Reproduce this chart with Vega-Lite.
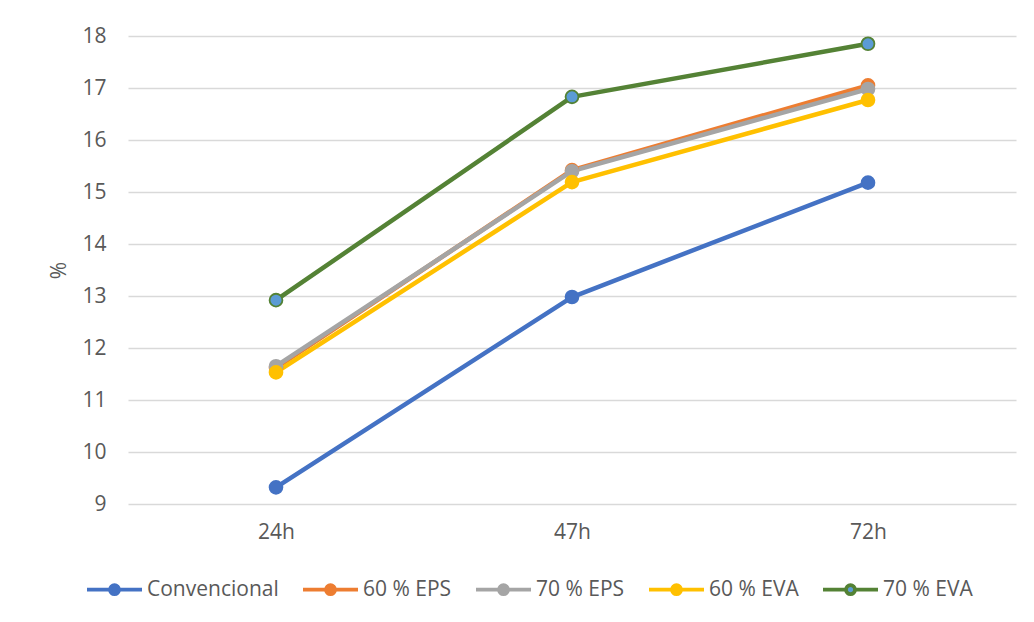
{
  "$schema": "https://vega.github.io/schema/vega-lite/v6.json",
  "width": 888,
  "height": 468,
  "autosize": {"type": "none"},
  "padding": {"left": 128, "top": 36, "right": 18, "bottom": 118},
  "background": "white",
  "config": {
    "view": {"stroke": null},
    "font": "Open Sans",
    "legend": {
      "orient": "none",
      "direction": "horizontal",
      "legendX": -43,
      "legendY": 524,
      "labelFontSize": 21,
      "labelColor": "#595959",
      "symbolType": "M-1,0H-0.164M0.164,0H1M-0.164,0A0.164,0.164 0 1,1 0.164,0A0.164,0.164 0 1,1 -0.164,0Z",
      "symbolSize": 3025,
      "symbolStrokeWidth": 3.8,
      "symbolOpacity": 1,
      "labelOffset": 3,
      "columnPadding": 16
    }
  },
  "data": {
    "values": [
      {"series": "Convencional", "time": "24h", "value": 9.32},
      {"series": "Convencional", "time": "47h", "value": 12.98},
      {"series": "Convencional", "time": "72h", "value": 15.18},
      {"series": "60 % EPS", "time": "24h", "value": 11.62},
      {"series": "60 % EPS", "time": "47h", "value": 15.42},
      {"series": "60 % EPS", "time": "72h", "value": 17.05},
      {"series": "70 % EPS", "time": "24h", "value": 11.65},
      {"series": "70 % EPS", "time": "47h", "value": 15.40},
      {"series": "70 % EPS", "time": "72h", "value": 16.98},
      {"series": "60 % EVA", "time": "24h", "value": 11.53},
      {"series": "60 % EVA", "time": "47h", "value": 15.19},
      {"series": "60 % EVA", "time": "72h", "value": 16.77},
      {"series": "70 % EVA", "time": "24h", "value": 12.92},
      {"series": "70 % EVA", "time": "47h", "value": 16.83},
      {"series": "70 % EVA", "time": "72h", "value": 17.85}
    ]
  },
  "encoding": {
    "x": {
      "field": "time",
      "type": "ordinal",
      "sort": ["24h", "47h", "72h"],
      "scale": {"type": "point", "padding": 0.5},
      "axis": {
        "title": null,
        "labelAngle": 0,
        "labelFontSize": 21,
        "labelColor": "#595959",
        "labelPadding": 17,
        "ticks": false,
        "domain": false,
        "grid": false
      }
    },
    "y": {
      "field": "value",
      "type": "quantitative",
      "scale": {"domain": [9, 18], "nice": false, "zero": false},
      "axis": {
        "title": "%",
        "values": [9, 10, 11, 12, 13, 14, 15, 16, 17, 18],
        "labelFontSize": 21,
        "labelColor": "#595959",
        "labelPadding": 22,
        "grid": true,
        "gridColor": "#D9D9D9",
        "gridWidth": 1.5,
        "ticks": false,
        "domain": false,
        "titleFontSize": 21,
        "titleFontWeight": "normal",
        "titleColor": "#595959",
        "titlePadding": 12
      }
    }
  },
  "layer": [
    {
      "mark": {"type": "line", "strokeWidth": 4.5, "strokeCap": "round", "strokeJoin": "round"},
      "encoding": {
        "stroke": {
          "field": "series",
          "type": "nominal",
          "title": null,
          "sort": ["Convencional", "60 % EPS", "70 % EPS", "60 % EVA", "70 % EVA"],
          "scale": {
            "domain": ["Convencional", "60 % EPS", "70 % EPS", "60 % EVA", "70 % EVA"],
            "range": ["#4472C4", "#ED7D31", "#A5A5A5", "#FFC000", "#548235"]
          }
        }
      }
    },
    {
      "mark": {"type": "point", "filled": true, "size": 165, "opacity": 1, "strokeWidth": 1.8},
      "encoding": {
        "stroke": {
          "field": "series",
          "type": "nominal",
          "title": null,
          "sort": ["Convencional", "60 % EPS", "70 % EPS", "60 % EVA", "70 % EVA"],
          "scale": {
            "domain": ["Convencional", "60 % EPS", "70 % EPS", "60 % EVA", "70 % EVA"],
            "range": ["#4472C4", "#ED7D31", "#A5A5A5", "#FFC000", "#548235"]
          }
        },
        "fill": {
          "field": "series",
          "type": "nominal",
          "title": null,
          "sort": ["Convencional", "60 % EPS", "70 % EPS", "60 % EVA", "70 % EVA"],
          "scale": {
            "domain": ["Convencional", "60 % EPS", "70 % EPS", "60 % EVA", "70 % EVA"],
            "range": ["#4472C4", "#ED7D31", "#A5A5A5", "#FFC000", "#5B9BD5"]
          }
        }
      }
    }
  ]
}
